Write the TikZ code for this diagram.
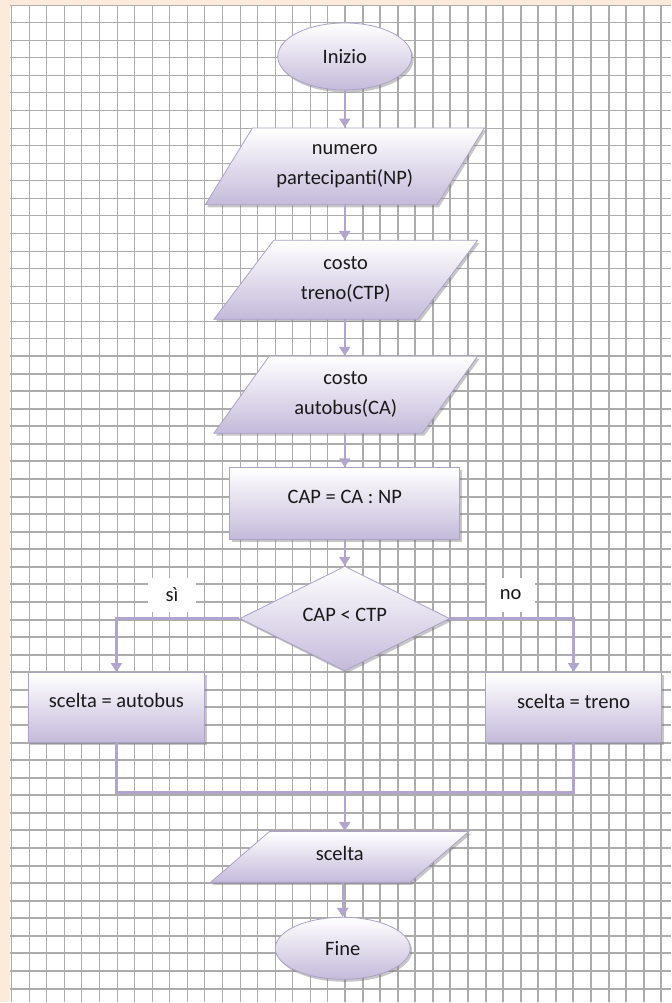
\documentclass[tikz,border=0pt]{standalone}
\usepackage{fontspec}
\setmainfont{Carlito}
\usetikzlibrary{shapes.geometric,shadows,arrows.meta}
\definecolor{peach}{RGB}{253,234,218}
\definecolor{gridgray}{RGB}{172,172,172}
\definecolor{lavline}{RGB}{178,165,205}
\definecolor{lavdraw}{RGB}{172,162,200}
\definecolor{lavfill}{RGB}{196,186,218}

\begin{document}
\begin{tikzpicture}[
x=1pt,
y=-1pt,
gridline/.style={
  draw=gridgray,
  line width=1.5pt
  },
block/.style={
  draw=lavdraw,
  line width=0.8pt,
  top color=white,
  bottom color=lavfill,
  drop shadow={shadow xshift=2pt,shadow yshift=-2.5pt,opacity=.4,fill=black!55},
  font=\fontsize{20.5}{30}\selectfont,
  text=black!90,
  align=center,
  inner sep=0pt
  },
terminal/.style={
  block,
  ellipse
  },
io/.style={
  block,
  trapezium,
  trapezium stretches=true,
  trapezium left angle=51,
  trapezium right angle=129
  },
process/.style={
  block,
  rectangle
  },
decision/.style={
  block,
  diamond
  },
flow/.style={
  draw=lavline,
  line width=2.2pt
  },
answer/.style={
  fill=white,
  font=\fontsize{20.5}{24}\selectfont,
  text=black!90,
  minimum width=48pt,
  minimum height=34pt
  },
>={Triangle[length=9pt,width=11pt]}
]
% sfondo a quadretti
\fill[peach] (0,0) rectangle (671,1003);
\fill[white] (10,6) rectangle (671,1003);
\foreach \gx [evaluate=\gx as \px using {floor(11.7+17.57*\gx)+0.5}] in {0,...,37}
  \draw[gridline] (\px,6) -- (\px,1003);
\foreach \gy [evaluate=\gy as \py using {floor(5.1+17.57*\gy)+0.5}] in {0,...,56}
  \draw[gridline] (10,\py) -- (671,\py);

% blocchi
\node[terminal,minimum width=134pt,minimum height=67pt] (start) at (345,56.5) {Inizio};
\node[io,minimum width=280pt,minimum height=77pt] (inNP) at (345,166.5) {numero\\partecipanti(NP)};
\node[io,minimum width=264pt,minimum height=79pt] (inCTP) at (346,280) {costo\\treno(CTP)};
\node[io,minimum width=264pt,minimum height=77pt] (inCA) at (346,395) {costo\\autobus(CA)};
\node[process,minimum width=230pt,minimum height=72pt] (calc) at (345,504) {\raisebox{14pt}{CAP = CA : NP}};
\node[decision,minimum width=210pt,minimum height=88pt] (test) at (345,619) {\raisebox{7pt}{CAP < CTP}};
\node[process,minimum width=177pt,minimum height=70pt] (bus) at (116.5,708) {\raisebox{15pt}{scelta = autobus}};
\node[process,minimum width=176pt,minimum height=70pt] (train) at (574,708) {\raisebox{13pt}{scelta = treno}};
\node[io,trapezium left angle=45,trapezium right angle=135,minimum width=261pt,minimum height=51pt] (outS) at (340,857.5) {\raisebox{6pt}{scelta}};
\node[terminal,minimum width=135pt,minimum height=62pt] (stop) at (343,949) {Fine};
\coordinate (merge) at (345,793);

% collegamenti
\draw[flow,->] (start) -- (inNP);
\draw[flow,->] (inNP.south -| start) -- (inCTP.north -| start);
\draw[flow,->] (inCTP.south -| start) -- (inCA.north -| start);
\draw[flow,->] (inCA.south -| start) -- (calc);
\draw[flow,->] (calc) -- (test);
\draw[flow,->] (test.west) -| (bus);
\draw[flow,->] (test.east) -| (train);
\draw[flow] (bus) |- (merge) -| (train);
\draw[flow,->] (merge) -- (merge |- outS.north);
\draw[flow,->] (stop |- outS.south) -- (stop);

\node[answer] (yes) at (172,595) {sì};
\node[answer] (no) at (511,595) {no};
\end{tikzpicture}
\end{document}
